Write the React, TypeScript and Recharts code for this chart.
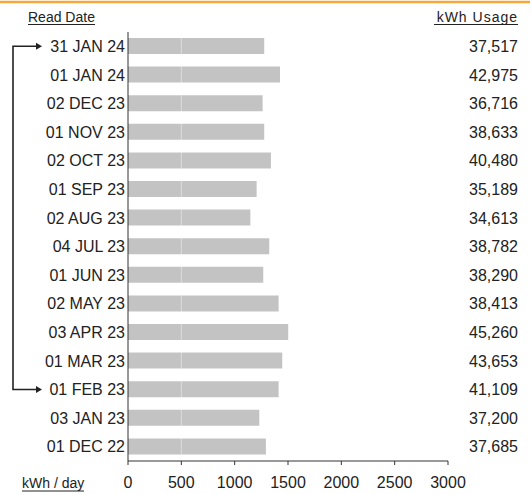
import { Bar, BarChart, ReferenceLine, XAxis, YAxis } from 'recharts'

const readDates = [
  '31 JAN 24', '01 JAN 24', '02 DEC 23', '01 NOV 23', '02 OCT 23',
  '01 SEP 23', '02 AUG 23', '04 JUL 23', '01 JUN 23', '02 MAY 23',
  '03 APR 23', '01 MAR 23', '01 FEB 23', '03 JAN 23', '01 DEC 22',
]
const kwhPerDay = [1277, 1425, 1262, 1277, 1340, 1206, 1147, 1324, 1268, 1412, 1502, 1446, 1412, 1231, 1293]
const kwhUsage = [37517, 42975, 36716, 38633, 40480, 35189, 34613, 38782, 38290, 38413, 45260, 43653, 41109, 37200, 37685]
const xTicks = [0, 500, 1000, 1500, 2000, 2500, 3000]

const data = readDates.map((date, i) => ({ date, perDay: kwhPerDay[i], usage: kwhUsage[i] }))

const W = 532
const H = 494
const TOP = 32
const BAND = (H - TOP - 33) / readDates.length
const FONT = '"Liberation Sans", Arial, sans-serif'
const INK = '#222'

// y centre of a row, used only for the bracket decoration
const rowY = (i: number) => TOP + BAND * (i + 0.5)

function UsageTick({ x, y, index }: any) {
  return (
    <text x={x + 70} y={y} dy="0.35em" textAnchor="end" fontSize={16} fill={INK} fontFamily={FONT}>
      {kwhUsage[index].toLocaleString('en-US')}
    </text>
  )
}

export default function App() {
  const top = rowY(0)
  const bottom = rowY(12)
  return (
    <div style={{ position: 'absolute', left: 0, top: 0, width: W, height: H, background: '#fff', fontFamily: FONT }}>
      <BarChart
        width={W}
        height={H}
        data={data}
        layout="vertical"
        margin={{ top: TOP, right: 0, bottom: 3, left: 0 }}
        barCategoryGap={0}
      >
        <XAxis
          type="number"
          domain={[0, 3000]}
          ticks={xTicks}
          height={30}
          tickSize={4}
          tickMargin={12}
          stroke="#333"
          tick={{ fontSize: 16, fill: INK, fontFamily: FONT }}
        />
        <YAxis
          yAxisId="left"
          type="category"
          dataKey="date"
          width={128}
          tickLine={false}
          tickSize={0}
          tickMargin={3}
          stroke="#333"
          tick={{ fontSize: 16, fill: INK, fontFamily: FONT }}
        />
        <YAxis
          yAxisId="right"
          orientation="right"
          type="category"
          dataKey="date"
          width={84}
          axisLine={false}
          tickLine={false}
          tickSize={0}
          tickMargin={0}
          tick={<UsageTick />}
        />
        <Bar yAxisId="left" dataKey="perDay" fill="#c3c3c3" barSize={16} isAnimationActive={false} />
        <ReferenceLine yAxisId="left" x={500} stroke="#fff" strokeOpacity={0.4} />
      </BarChart>

      <svg width={W} height={H} style={{ position: 'absolute', left: 0, top: 0, pointerEvents: 'none' }}>
        <line x1={0} x2={530} y1={2} y2={2} stroke="#f5a83a" strokeWidth={2.5} />

        <text x={28} y={22} fontSize={14} fill={INK} fontFamily={FONT}>Read Date</text>
        <line x1={28} x2={95} y1={24.5} y2={24.5} stroke={INK} strokeWidth={1} />

        <text x={518} y={22} fontSize={14} fill={INK} fontFamily={FONT} textAnchor="end" letterSpacing={1}>
          kWh Usage
        </text>
        <line x1={434} x2={518} y1={24.5} y2={24.5} stroke={INK} strokeWidth={1} />

        <text x={22} y={488} fontSize={14} fill={INK} fontFamily={FONT}>kWh / day</text>
        <line x1={22} x2={84} y1={491} y2={491} stroke={INK} strokeWidth={1} />

        <path
          d={`M36 ${top} H13 V${bottom} H36`}
          fill="none"
          stroke={INK}
          strokeWidth={1.6}
        />
        <path d={`M36 ${top - 3.5} L42 ${top} L36 ${top + 3.5} Z`} fill={INK} />
        <path d={`M36 ${bottom - 3.5} L42 ${bottom} L36 ${bottom + 3.5} Z`} fill={INK} />
      </svg>
    </div>
  )
}
